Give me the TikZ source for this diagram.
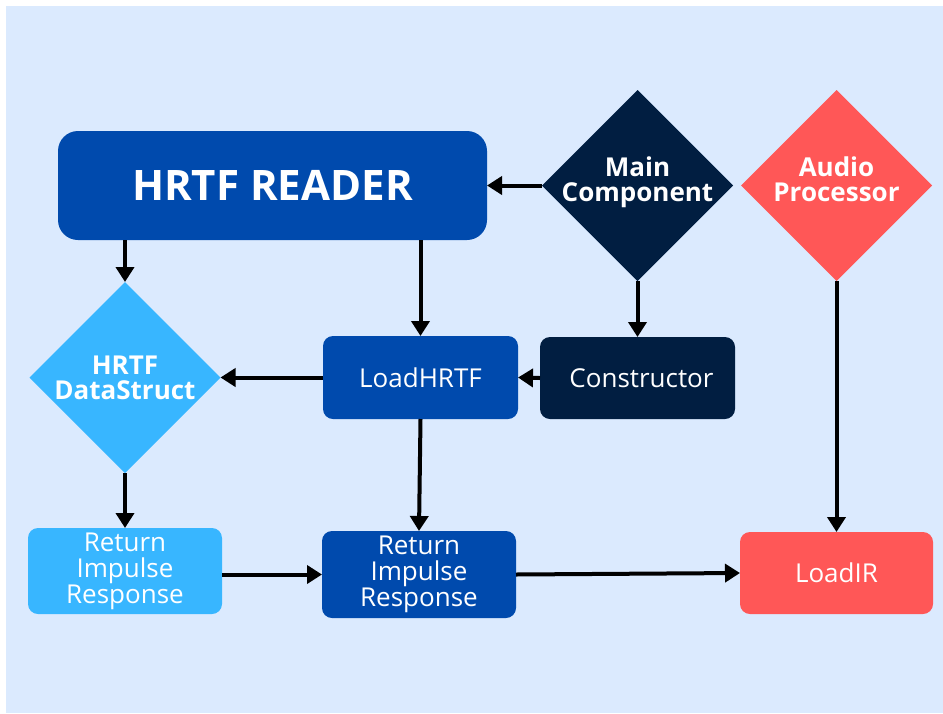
\documentclass[tikz,border=0pt]{standalone}
\usepackage{fontspec}
\setmainfont{Open Sans}
\usetikzlibrary{shapes.geometric,arrows.meta}
\definecolor{bgblue}{RGB}{219,234,254}
\definecolor{royal}{RGB}{0,74,173}
\definecolor{navy}{RGB}{1,30,65}
\definecolor{coral}{RGB}{255,87,87}
\definecolor{sky}{RGB}{56,182,255}
\tikzset{
  box/.style={draw=none, rounded corners=10pt, inner sep=0pt, outer sep=0pt,
    text=white, align=center, font=\fontsize{26}{26}\selectfont},
  dia/.style={diamond, draw=none, inner sep=0pt, outer sep=0pt,
    minimum width=191pt, minimum height=191pt},
  dlabel/.style={text=white, align=center, inner sep=0pt,
    font=\bfseries\fontsize{26}{25}\selectfont},
  conn/.style={line width=4pt, -{Triangle[length=15pt,width=18pt]}},
}
\begin{document}
\begin{tikzpicture}[x=1pt, y=-1pt]
  \useasboundingbox (0,0) rectangle (943,713);
  \fill[white] (0,0) rectangle (943,713);
  \fill[bgblue] (6,6) rectangle (943,713);

  % boxes
  \node[box, fill=royal, rounded corners=20pt, minimum width=429pt, minimum height=109pt,
        font=\bfseries\fontsize{42}{46}\selectfont] (reader) at (272.5,185.5) {HRTF READER};
  \node[box, fill=royal, minimum width=195pt, minimum height=83pt] (loadhrtf) at (420.5,377.5) {LoadHRTF};
  \node[box, fill=navy, minimum width=195pt, minimum height=82pt] (constructor) at (637.5,378) {\hspace*{8pt}Constructor};
  \node[box, fill=sky, minimum width=194pt, minimum height=86pt] (retl) at (125,571) {Return\\Impulse\\Response};
  \node[box, fill=royal, minimum width=194pt, minimum height=87pt] (retd) at (419,574.5) {Return\\Impulse\\Response};
  \node[box, fill=coral, minimum width=193pt, minimum height=82pt] (loadir) at (836.5,573) {LoadIR};

  % decision diamonds
  \node[dia, fill=navy, label={[dlabel, yshift=3pt]center:Main\\Component}] (main) at (637.5,185.5) {};
  \node[dia, fill=coral, label={[dlabel, yshift=6pt]center:Audio\\Processor}] (audio) at (836.5,185.5) {};
  \node[dia, fill=sky, label={[dlabel]center:HRTF\\DataStruct}] (ds) at (125,377.5) {};

  % connectors
  \draw[conn] (ds.north |- reader.south) -- (ds.north);
  \draw[conn] (loadhrtf.north |- reader.south) -- (loadhrtf.north);
  \draw[conn] (main.west) -- (main.west -| reader.east);
  \draw[conn] (main.south) -- (constructor.north);
  \draw[conn] (constructor.west) -- (loadhrtf.east);
  \draw[conn] (loadhrtf.west) -- (ds.east);
  \draw[conn] (ds.south) -- (retl.north);
  \draw[conn] (loadhrtf.south) -- (retd.north);
  \draw[conn] (audio.south) -- (loadir.north);
  \draw[conn] (retl.east |- retd.west) -- (retd.west);
  \draw[conn] (retd.east) -- (loadir.west);
\end{tikzpicture}
\end{document}
